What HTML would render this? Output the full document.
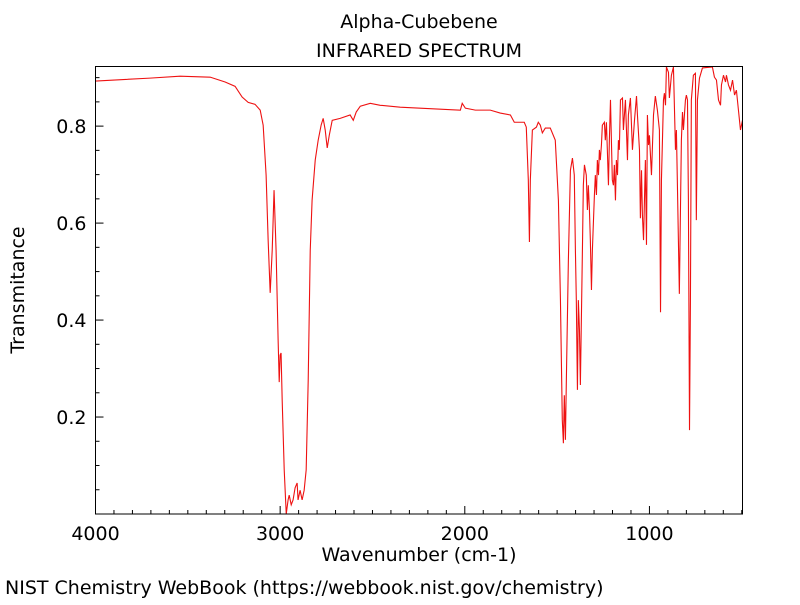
<!DOCTYPE html>
<html><head><meta charset="utf-8"><style>
body{margin:0;background:#fff;}
svg text{font-family:"DejaVu Sans","Liberation Sans",sans-serif;fill:#000;}
</style></head><body>
<svg id="chart" width="800" height="600" xmlns="http://www.w3.org/2000/svg">
<text x="419" y="28" font-size="19" text-anchor="middle">Alpha-Cubebene</text>
<text x="419" y="57" font-size="19" text-anchor="middle">INFRARED SPECTRUM</text>
<text x="419" y="561" font-size="19" text-anchor="middle">Wavenumber (cm-1)</text>
<text x="24" y="290" font-size="19" text-anchor="middle" transform="rotate(-90 24 290)">Transmitance</text>
<text x="5" y="594" font-size="19">NIST Chemistry WebBook (https://webbook.nist.gov/chemistry)</text>
<defs><clipPath id="clip"><rect x="95.5" y="66" width="647" height="448"/></clipPath></defs>
<g id="ticks"></g>
<path id="spectrum" fill="none" stroke="#ee1111" stroke-width="1.1" clip-path="url(#clip)"/>
<rect x="95.5" y="66.5" width="647" height="447.5" fill="none" stroke="#000" stroke-width="1"/>
</svg>
<script>
const wavenumbers=[4000,3705,3542,3379,3298,3244,3206,3173,3136,3108,3092,3076,3065,3054,3043,3033,3022,3011,3005,3000,2995,2989,2978,2967,2957,2951,2940,2930,2919,2908,2903,2892,2881,2870,2859,2848,2837,2827,2810,2794,2778,2767,2756,2745,2734,2718,2675,2621,2604,2588,2566,2512,2458,2350,2241,2024,2014,1997,1943,1862,1808,1753,1732,1678,1667,1656,1650,1645,1634,1612,1602,1591,1580,1564,1537,1510,1493,1482,1472,1466,1461,1455,1450,1439,1428,1417,1407,1401,1396,1390,1385,1379,1374,1363,1358,1352,1342,1336,1331,1325,1320,1314,1309,1298,1293,1287,1282,1276,1271,1266,1260,1255,1244,1239,1233,1228,1222,1217,1211,1201,1195,1190,1184,1179,1173,1168,1163,1157,1146,1141,1130,1119,1114,1103,1092,1081,1070,1065,1054,1049,1043,1038,1032,1022,1016,1011,1005,1000,989,978,968,957,946,940,935,924,919,913,908,897,892,881,870,859,854,849,838,827,821,816,805,800,794,789,783,778,773,762,751,746,740,729,713,659,648,637,626,615,610,599,588,583,572,561,550,539,529,518,507,496];
const transmittance=[.893,.899,.903,.901,.891,.882,.860,.849,.845,.833,.802,.699,.565,.456,.544,.668,.544,.359,.272,.328,.332,.235,.091,.0,.029,.039,.019,.029,.054,.064,.029,.049,.029,.049,.091,.276,.544,.647,.730,.771,.802,.816,.792,.755,.781,.812,.816,.823,.812,.829,.841,.847,.843,.839,.837,.833,.847,.837,.833,.833,.827,.823,.808,.808,.798,.689,.561,.689,.792,.798,.808,.802,.786,.796,.796,.771,.647,.441,.194,.146,.245,.153,.276,.524,.709,.734,.699,.544,.441,.256,.441,.379,.266,.544,.678,.720,.699,.627,.678,.627,.565,.462,.544,.658,.699,.658,.730,.699,.751,.730,.761,.802,.808,.771,.808,.751,.678,.771,.854,.689,.678,.720,.647,.730,.699,.771,.751,.854,.858,.792,.854,.730,.823,.858,.751,.812,.862,.823,.751,.610,.709,.616,.565,.730,.555,.823,.761,.781,.699,.823,.862,.833,.792,.416,.689,.854,.868,.843,.922,.911,.858,.905,.922,.751,.792,.689,.454,.771,.829,.792,.854,.864,.854,.647,.173,.441,.854,.905,.909,.606,.854,.899,.920,.922,.901,.895,.854,.843,.885,.905,.891,.905,.885,.874,.895,.864,.874,.833,.792,.812];
const xTickLabels=[4000,3000,2000,1000];
const yTickLabels=[0.2,0.4,0.6,0.8];
const X0=95.5,X1=742.5,Y0=514,Y1=66,WMAX=4000,WMIN=496,TMIN=0,TMAX=0.924;
const xs=w=>X0+(WMAX-w)/(WMAX-WMIN)*(X1-X0);
const ys=t=>Y0-(t-TMIN)/(TMAX-TMIN)*(Y0-Y1);
const NS='http://www.w3.org/2000/svg';
let d='';
for(let i=0;i<wavenumbers.length;i++){d+=(i?'L':'M')+xs(wavenumbers[i]).toFixed(2)+','+ys(transmittance[i]).toFixed(2);}
document.getElementById('spectrum').setAttribute('d',d);
const g=document.getElementById('ticks');
function line(x1,y1,x2,y2,name){const l=document.createElementNS(NS,'line');
l.setAttribute('x1',x1);l.setAttribute('y1',y1);l.setAttribute('x2',x2);l.setAttribute('y2',y2);
l.setAttribute('stroke','#000');l.setAttribute('stroke-width','1');


g.appendChild(l);}
function text(x,y,s,anchor,name){const t=document.createElementNS(NS,'text');
t.setAttribute('x',x);t.setAttribute('y',y);t.setAttribute('font-size','19');t.setAttribute('text-anchor',anchor);t.textContent=s;


g.appendChild(t);}
for(let w=4000;w>WMIN;w-=100){const x=xs(w);const major=w%1000===0;line(x,Y0,x,Y0-(major?8:4),major?'x-major-tick':'x-minor-tick');}
xTickLabels.forEach(w=>text(xs(w),Y0+26,String(w),'middle','x-tick-label'));
for(let k=1;k*0.05<TMAX;k++){const t=k*0.05;const y=ys(t);const major=k%4===0;line(X0,y,X0+(major?8:4),y,major?'y-major-tick':'y-minor-tick');}
yTickLabels.forEach(t=>text(X0-9,ys(t)+7,t.toFixed(1),'end','y-tick-label'));
</script>
</body></html>
